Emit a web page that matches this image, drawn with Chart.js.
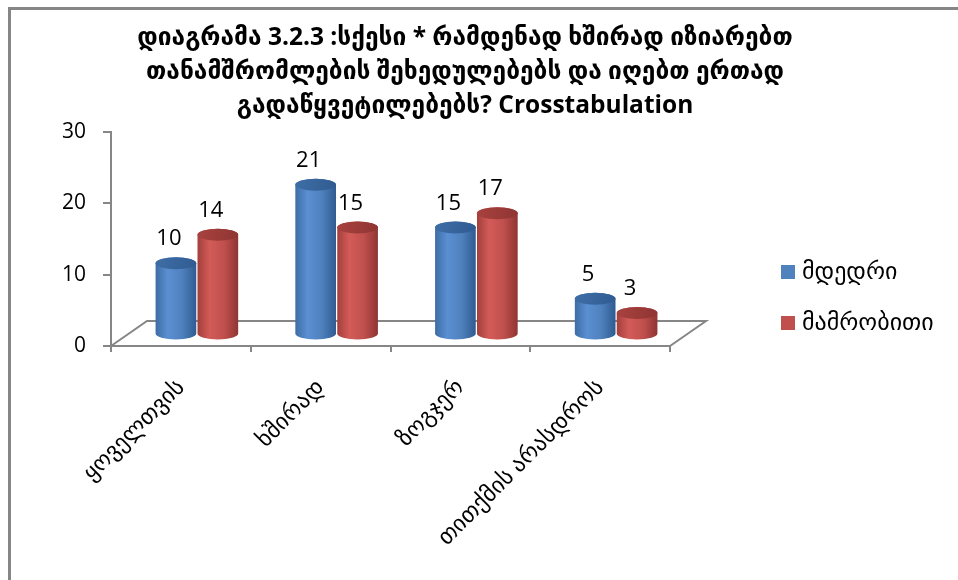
<!DOCTYPE html>
<html lang="ka">
<head>
<meta charset="utf-8">
<title>დიაგრამა 3.2.3</title>
<script src="https://cdn.jsdelivr.net/npm/chart.js@4.4.1/dist/chart.umd.min.js"></script>
<style>
  html, body { margin: 0; padding: 0; background: #fff; }
  canvas { display: block; }
</style>
</head>
<body>
<canvas id="grafiki" width="958" height="580"></canvas>
<script>
/* ── data ── */
var kategoriebi = ['ყოველთვის', 'ხშირად', 'ზოგჯერ', 'თითქმის არასდროს'];
var mdedri = [10, 21, 15, 5];
var mamrobiti = [14, 15, 17, 3];
var yTicks = [0, 10, 20, 30];
var satauri = [
    'დიაგრამა 3.2.3 :სქესი * რამდენად ხშირად იზიარებთ',
    'თანამშრომლების შეხედულებებს და იღებთ ერთად',
    'გადაწყვეტილებებს? Crosstabulation'
];

var FONT = "'Open Sans', 'DejaVu Sans', sans-serif";
var GRAY = '#868686';

/* depth of the 3D floor and how far back the cylinders stand */
var FLOOR_DX = 36, FLOOR_DY = 25;
var BAR_DX = 16, BAR_DY = 11.5;

/* cylinder colours: side gradient (4 stops) and the top cap */
var kolorebi = [
    { side: ['#3e6da5', '#5a8fd2', '#4f81bd', '#2f5b91'], cap: '#3f6ea6', flat: '#4f81bd' },
    { side: ['#a33f3c', '#d35b58', '#c0504d', '#8f3532'], cap: '#a8423f', flat: '#c0504d' }
];

function cylinder(ctx, cx, top, bottom, rx, ry, c) {
    var g = ctx.createLinearGradient(cx - rx, 0, cx + rx, 0);
    g.addColorStop(0, c.side[0]);
    g.addColorStop(0.3, c.side[1]);
    g.addColorStop(0.65, c.side[2]);
    g.addColorStop(1, c.side[3]);
    ctx.beginPath();
    ctx.moveTo(cx - rx, top);
    ctx.lineTo(cx - rx, bottom);
    ctx.ellipse(cx, bottom, rx, ry, 0, Math.PI, 0, true);
    ctx.lineTo(cx + rx, top);
    ctx.ellipse(cx, top, rx, ry, 0, 0, Math.PI, true);
    ctx.closePath();
    ctx.fillStyle = g;
    ctx.fill();
    /* top cap */
    var g2 = ctx.createLinearGradient(cx - rx, top - ry, cx + rx, top + ry);
    g2.addColorStop(0, c.cap);
    g2.addColorStop(1, c.side[3]);
    ctx.beginPath();
    ctx.ellipse(cx, top, rx, ry, 0, 0, Math.PI * 2);
    ctx.fillStyle = g2;
    ctx.fill();
}

/* frame, title, floor, cylinders, value labels and legend */
var dekoracia = {
    id: 'dekoracia',
    beforeDatasetsDraw: function (chart) {
        var ctx = chart.ctx, a = chart.chartArea;
        ctx.save();
        ctx.strokeStyle = GRAY;
        ctx.lineWidth = 2;
        ctx.beginPath();
        ctx.moveTo(a.left, a.bottom);
        ctx.lineTo(a.left + FLOOR_DX, a.bottom - FLOOR_DY);
        ctx.lineTo(a.right + FLOOR_DX, a.bottom - FLOOR_DY);
        ctx.lineTo(a.right, a.bottom);
        ctx.stroke();
        ctx.restore();
    },
    afterDatasetsDraw: function (chart) {
        var ctx = chart.ctx;
        ctx.save();
        chart.data.datasets.forEach(function (ds, i) {
            var meta = chart.getDatasetMeta(i);
            meta.data.forEach(function (bar, j) {
                var cx = bar.x + BAR_DX;
                var top = bar.y - BAR_DY;
                var bottom = bar.base - BAR_DY;
                cylinder(ctx, cx, top, bottom, bar.width / 2, 6, kolorebi[i]);
                ctx.fillStyle = '#000';
                ctx.font = '22px ' + FONT;
                ctx.textAlign = 'center';
                ctx.textBaseline = 'middle';
                ctx.fillText(String(ds.data[j]), cx - 7, top - 24);
            });
        });
        ctx.restore();
    },
    afterDraw: function (chart) {
        var ctx = chart.ctx;
        ctx.save();
        /* outer frame, top and left */
        ctx.strokeStyle = GRAY;
        ctx.lineWidth = 3;
        ctx.beginPath();
        ctx.moveTo(9.5, 580);
        ctx.lineTo(9.5, 8.5);
        ctx.lineTo(958, 8.5);
        ctx.stroke();

        /* title */
        ctx.fillStyle = '#000';
        ctx.font = 'bold 24.5px ' + FONT;
        ctx.textAlign = 'center';
        ctx.textBaseline = 'middle';
        satauri.forEach(function (line, k) {
            ctx.fillText(line, 465, 38 + k * 34);
        });

        /* legend */
        ctx.font = '24px ' + FONT;
        ctx.textAlign = 'left';
        chart.data.datasets.forEach(function (ds, i) {
            var y = 272 + i * 51;
            ctx.fillStyle = kolorebi[i].flat;
            ctx.fillRect(781, y - 7, 14, 14);
            ctx.fillStyle = '#000';
            ctx.fillText(ds.label, 802, y);
        });
        ctx.restore();
    }
};

new Chart(document.getElementById('grafiki'), {
    type: 'bar',
    data: {
        labels: kategoriebi,
        datasets: [
            { label: 'მდედრი', data: mdedri, backgroundColor: 'rgba(0,0,0,0)' },
            { label: 'მამრობითი', data: mamrobiti, backgroundColor: 'rgba(0,0,0,0)' }
        ]
    },
    options: {
        responsive: false,
        animation: false,
        events: [],
        categoryPercentage: 0.6,
        barPercentage: 0.97,
        layout: { padding: { top: 132, right: 288, bottom: 0, left: 0 } },
        plugins: {
            legend: { display: false },
            title: { display: false },
            tooltip: { enabled: false }
        },
        scales: {
            x: {
                afterFit: function (s) { s.height = 234; },
                grid: { drawOnChartArea: false, tickLength: 6, color: GRAY, lineWidth: 2 },
                border: { color: GRAY, width: 2 },
                ticks: {
                    color: '#000',
                    font: { family: FONT, size: 23 },
                    minRotation: 45,
                    maxRotation: 45,
                    autoSkip: false,
                    padding: 22
                }
            },
            y: {
                min: 0,
                max: 30,
                afterFit: function (s) { s.width = 111; },
                afterBuildTicks: function (s) {
                    s.ticks = yTicks.map(function (v) { return { value: v }; });
                },
                grid: { drawOnChartArea: false, tickLength: 8, color: GRAY, lineWidth: 2 },
                border: { color: GRAY, width: 2 },
                ticks: { color: '#000', font: { family: FONT, size: 21 }, padding: 17 }
            }
        }
    },
    plugins: [dekoracia]
});
</script>
</body>
</html>
